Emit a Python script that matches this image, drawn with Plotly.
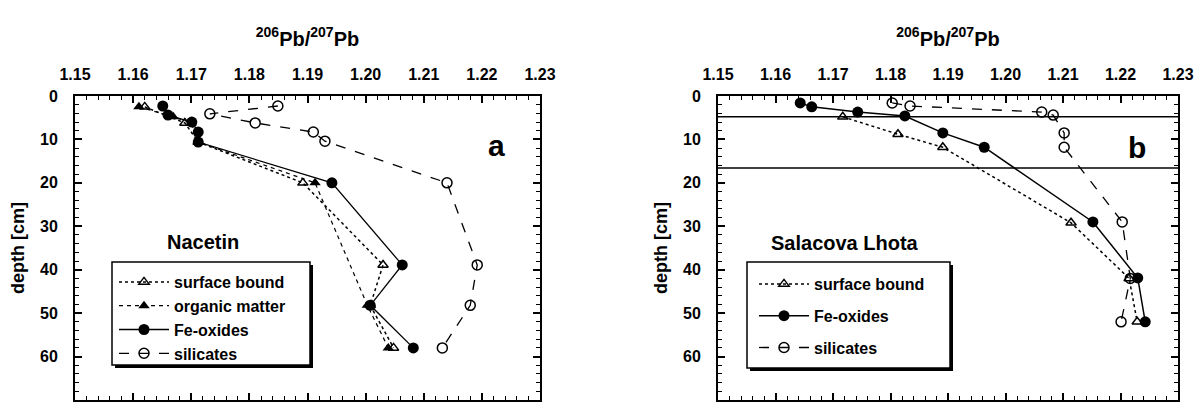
import plotly.graph_objects as go

# ---------------- data ----------------
# Panel a: Nacetin
a_sb_x = [1.1620, 1.1689, 1.1712, 1.1892, 1.2030, 1.2008, 1.2048]
a_sb_d = [2.5, 6.2, 10.6, 20.0, 38.9, 48.2, 58.0]
a_om_x = [1.1610, 1.1669, 1.1700, 1.1712, 1.1913, 1.2003, 1.2039]
a_om_d = [2.5, 4.8, 6.2, 10.6, 20.0, 48.2, 58.0]
a_fe_x = [1.1651, 1.1660, 1.1701, 1.1712, 1.1712, 1.1942, 1.2063, 1.2008, 1.2082]
a_fe_d = [2.3, 4.4, 6.0, 8.3, 10.6, 20.0, 38.9, 48.2, 58.0]
a_si_x = [1.1849, 1.1732, 1.1810, 1.1910, 1.1930, 1.2140, 1.2192, 1.2180, 1.2132]
a_si_d = [2.3, 4.1, 6.2, 8.3, 10.4, 20.0, 38.9, 48.2, 58.0]

# Panel b: Salacova Lhota
b_sb_x = [1.1717, 1.1813, 1.1891, 1.2114, 1.2215, 1.2229]
b_sb_d = [4.8, 8.8, 11.8, 29.2, 42.0, 52.0]
b_fe_x = [1.1643, 1.1663, 1.1743, 1.1825, 1.1891, 1.1963, 1.2152, 1.2230, 1.2243]
b_fe_d = [1.6, 2.5, 3.7, 4.6, 8.5, 11.8, 29.0, 41.9, 52.0]
b_si_x = [1.1803, 1.1834, 1.2063, 1.2083, 1.2102, 1.2102, 1.2203, 1.2217, 1.2201]
b_si_d = [1.6, 2.3, 3.7, 4.4, 8.5, 11.8, 29.0, 42.0, 52.0]
b_boundaries = [4.8, 16.6]

x_ticks = [1.15, 1.16, 1.17, 1.18, 1.19, 1.20, 1.21, 1.22, 1.23]
x_tick_labels = ["1.15", "1.16", "1.17", "1.18", "1.19", "1.20", "1.21", "1.22", "1.23"]
y_ticks = [0, 10, 20, 30, 40, 50, 60, 70]

W, H = 1199, 408
FONT = "Liberation Sans"


def px(x):
    return x / W


def py(y):
    return 1 - y / H


fig = go.Figure()

open_tri = dict(symbol="triangle-up-open", size=9, color="black", line=dict(width=1.5, color="black"))
fill_tri = dict(symbol="triangle-up", size=10, color="black")
fill_circ = dict(symbol="circle", size=11, color="black")
open_circ = dict(symbol="circle-open", size=10, color="black", line=dict(width=1.5, color="black"))

# panel a traces
fig.add_trace(go.Scatter(x=a_sb_x, y=a_sb_d, mode="lines+markers", name="surface bound",
                         line=dict(color="black", width=1.5, dash="dot"), marker=open_tri,
                         xaxis="x", yaxis="y", legend="legend"))
fig.add_trace(go.Scatter(x=a_om_x, y=a_om_d, mode="lines+markers", name="organic matter",
                         line=dict(color="black", width=1.2, dash="4px,4px"), marker=fill_tri,
                         xaxis="x", yaxis="y", legend="legend"))
fig.add_trace(go.Scatter(x=a_fe_x, y=a_fe_d, mode="lines+markers", name="Fe-oxides",
                         line=dict(color="black", width=1.3), marker=fill_circ,
                         xaxis="x", yaxis="y", legend="legend"))
fig.add_trace(go.Scatter(x=a_si_x, y=a_si_d, mode="lines+markers", name="silicates",
                         line=dict(color="black", width=1.3, dash="10px,10px"), marker=open_circ,
                         xaxis="x", yaxis="y", legend="legend"))

# panel b traces
fig.add_trace(go.Scatter(x=b_sb_x, y=b_sb_d, mode="lines+markers", name="surface bound",
                         line=dict(color="black", width=1.5, dash="dot"), marker=open_tri,
                         xaxis="x2", yaxis="y2", legend="legend2", legendgroup="b1"))
fig.add_trace(go.Scatter(x=b_fe_x, y=b_fe_d, mode="lines+markers", name="Fe-oxides",
                         line=dict(color="black", width=1.5), marker=fill_circ,
                         xaxis="x2", yaxis="y2", legend="legend2", legendgroup="b2"))
fig.add_trace(go.Scatter(x=b_si_x, y=b_si_d, mode="lines+markers", name="silicates",
                         line=dict(color="black", width=1.3, dash="10px,10px"), marker=open_circ,
                         xaxis="x2", yaxis="y2", legend="legend2", legendgroup="b3"))

tickfont = dict(family=FONT, size=16, color="black", weight="bold")
xtitle_font = dict(family=FONT, size=20, color="black", weight="bold")
ytitle_font = dict(family=FONT, size=18, color="black", weight="bold")


def xaxis_cfg(domain, anchor):
    return dict(domain=domain, anchor=anchor, side="top", range=[1.15, 1.23],
                tickvals=x_ticks, ticktext=x_tick_labels, tickfont=tickfont,
                ticks="inside", ticklen=7, tickwidth=1.5, tickcolor="black",
                minor=dict(dtick=0.002, ticks="inside", ticklen=4, tickwidth=1, tickcolor="black"),
                showline=True, linecolor="black", linewidth=2, mirror="ticks",
                showgrid=False, zeroline=False, ticklabelstandoff=8, automargin=False,
                title=dict(text="<sup>206</sup>Pb/<sup>207</sup>Pb", font=xtitle_font, standoff=14))


def yaxis_cfg(domain, anchor):
    return dict(domain=domain, anchor=anchor, range=[70, 0], tickvals=y_ticks,
                tickfont=tickfont, ticks="inside", ticklen=7, tickwidth=1.5, tickcolor="black",
                minor=dict(dtick=2, ticks="inside", ticklen=4, tickwidth=1, tickcolor="black"),
                showline=True, linecolor="black", linewidth=2, mirror="ticks",
                showgrid=False, zeroline=False, ticklabelstandoff=12, automargin=False,
                title=dict(text="depth [cm]", font=ytitle_font, standoff=11))


ydom = [py(400), py(96)]
fig.update_layout(
    width=W, height=H, margin=dict(l=0, r=0, t=0, b=0, autoexpand=False),
    paper_bgcolor="white", plot_bgcolor="white",
    xaxis=xaxis_cfg([px(75), px(540)], "y"),
    yaxis=yaxis_cfg(ydom, "x"),
    xaxis2=xaxis_cfg([px(718), px(1178)], "y2"),
    yaxis2=yaxis_cfg(ydom, "x2"),
    legend=dict(x=px(114), y=py(265), xanchor="left", yanchor="top", bgcolor="rgba(0,0,0,0)",
                borderwidth=0, itemwidth=50, tracegroupgap=0,
                font=dict(family=FONT, size=16, color="black", weight="bold")),
    legend2=dict(x=px(754), y=py(267), xanchor="left", yanchor="top", bgcolor="rgba(0,0,0,0)",
                 borderwidth=0, itemwidth=50, tracegroupgap=8,
                 font=dict(family=FONT, size=16, color="black", weight="bold")),
    showlegend=True,
)

# legend frames with shadow
shapes = []
for (x0, y0, x1, y1) in [(112, 262, 310, 365), (747, 262, 950, 368)]:
    shapes.append(dict(type="rect", xref="paper", yref="paper", x0=px(x0 + 3), x1=px(x1 + 3),
                       y0=py(y1 + 3), y1=py(y0 + 3), fillcolor="black", line=dict(width=0),
                       layer="above"))
    shapes.append(dict(type="rect", xref="paper", yref="paper", x0=px(x0), x1=px(x1),
                       y0=py(y1), y1=py(y0), fillcolor="white",
                       line=dict(color="black", width=1.5), layer="above"))
for d in b_boundaries:
    shapes.append(dict(type="line", xref="x2 domain", yref="y2", x0=0, x1=1, y0=d, y1=d,
                       line=dict(color="black", width=1.5)))
fig.update_layout(shapes=shapes)

ann_font_big = dict(family=FONT, size=30, color="black", weight="bold")
ann_font_title = dict(family=FONT, size=20, color="black", weight="bold")
fig.update_layout(annotations=[
    dict(text="a", x=px(497), y=py(145), xref="paper", yref="paper", showarrow=False,
         xanchor="center", yanchor="middle", font=ann_font_big),
    dict(text="b", x=px(1137), y=py(147), xref="paper", yref="paper", showarrow=False,
         xanchor="center", yanchor="middle", font=ann_font_big),
    dict(text="Nacetin", x=px(203), y=py(242), xref="paper", yref="paper", showarrow=False,
         xanchor="center", yanchor="middle", font=ann_font_title),
    dict(text="Salacova Lhota", x=px(845), y=py(243), xref="paper", yref="paper", showarrow=False,
         xanchor="center", yanchor="middle", font=ann_font_title),
])

fig.write_html("out.html", config={"displayModeBar": False},
               post_script="document.body.style.margin='0';")
